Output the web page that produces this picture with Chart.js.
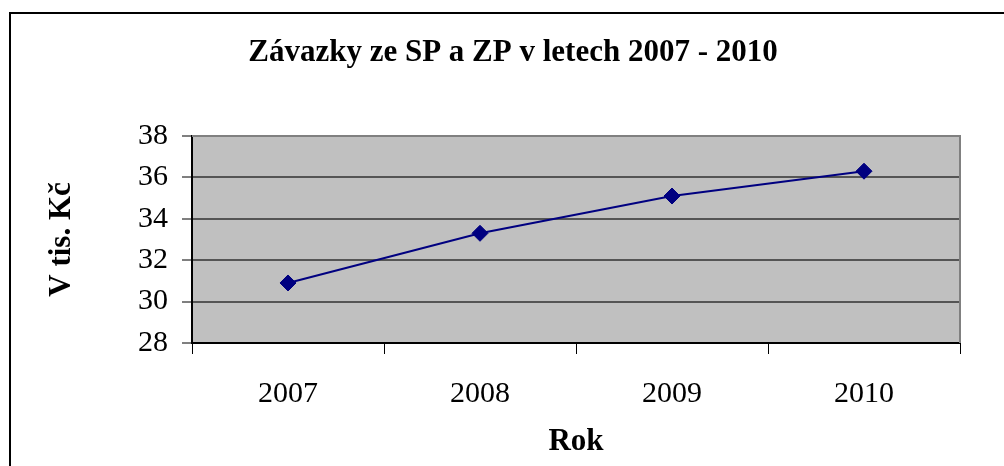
<!DOCTYPE html>
<html>
<head>
<meta charset="utf-8">
<script src="https://cdn.jsdelivr.net/npm/chart.js@4.4.0/dist/chart.umd.min.js"></script>
<style>
  html, body { margin: 0; padding: 0; background: #fff; }
  canvas { display: block; }
</style>
</head>
<body>
<canvas id="chart" width="1004" height="466"></canvas>
<script>
const years = ["2007", "2008", "2009", "2010"];
const liabilities = [30.9, 33.3, 35.1, 36.3]; // tis. Kč
const chartTitle = "Závazky ze SP a ZP v letech 2007 - 2010";
const yTitle = "V tis. Kč";
const xTitle = "Rok";

const SERIF = "'Liberation Serif', 'Times New Roman', serif";

// frame, grey plot background and the title
const excelLook = {
  id: "excelLook",
  beforeDraw(c) {
    const ctx = c.ctx;
    const a = c.chartArea;
    ctx.save();
    ctx.fillStyle = "#fff";
    ctx.fillRect(0, 0, c.width, c.height);
    ctx.strokeStyle = "#000";
    ctx.lineWidth = 2;
    ctx.strokeRect(10, 13, c.width + 20, c.height + 20);
    ctx.fillStyle = "#c0c0c0";
    ctx.fillRect(a.left, a.top, a.right - a.left, a.bottom - a.top);
    ctx.fillStyle = "#000";
    ctx.font = "bold 31px " + SERIF;
    ctx.textAlign = "center";
    ctx.textBaseline = "middle";
    ctx.fillText(chartTitle, 513, 53);
    ctx.restore();
  },
  beforeDatasetsDraw(c) {
    const ctx = c.ctx;
    const a = c.chartArea;
    ctx.save();
    ctx.strokeStyle = "#808080";
    ctx.lineWidth = 2;
    ctx.beginPath();
    ctx.moveTo(a.left, a.top);
    ctx.lineTo(a.right, a.top);
    ctx.lineTo(a.right, a.bottom);
    ctx.stroke();
    ctx.restore();
  }
};

new Chart(document.getElementById("chart"), {
  type: "line",
  data: {
    labels: years,
    datasets: [{
      data: liabilities,
      borderColor: "#000080",
      backgroundColor: "#000080",
      borderWidth: 2,
      pointStyle: "rectRot",
      pointRadius: 8,
      pointBorderWidth: 1,
      tension: 0
    }]
  },
  options: {
    responsive: false,
    animation: false,
    layout: { padding: { left: 10, top: 136, right: 44, bottom: 0 } },
    plugins: {
      legend: { display: false },
      title: { display: false },
      tooltip: { enabled: false }
    },
    scales: {
      x: {
        offset: true,
        grid: {
          offset: true,
          drawOnChartArea: false,
          tickLength: 11,
          tickColor: "#000",
          tickWidth: 1
        },
        border: { color: "#000", width: 2 },
        ticks: {
          color: "#000",
          padding: 22,
          font: { family: SERIF, size: 30 }
        },
        title: {
          display: true,
          text: xTitle,
          color: "#000",
          padding: { top: 5, bottom: 5 },
          font: { family: SERIF, size: 31, weight: "bold" }
        },
        afterFit(s) { s.height = 123; }
      },
      y: {
        min: 28,
        max: 38,
        grid: {
          color: (ctx) => ctx.tick && ctx.tick.value === 38 ? "#808080" : "#555",
          lineWidth: 2,
          tickLength: 10,
          tickColor: "#000",
          tickWidth: 1
        },
        border: { color: "#000", width: 2 },
        ticks: {
          stepSize: 2,
          color: "#000",
          padding: 14,
          font: { family: SERIF, size: 30 }
        },
        title: {
          display: true,
          text: yTitle,
          color: "#000",
          padding: { top: 33, bottom: 0 },
          font: { family: SERIF, size: 31, weight: "bold" }
        },
        afterFit(s) { s.width = 182; }
      }
    }
  },
  plugins: [excelLook]
});
</script>
</body>
</html>
